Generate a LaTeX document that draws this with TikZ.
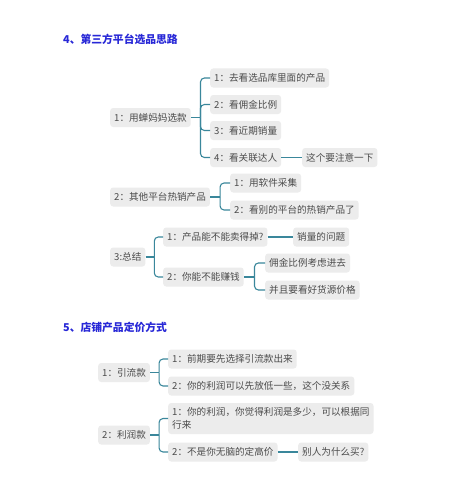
\documentclass[tikz,border=0pt]{standalone}
\usepackage{fontspec}
\setmainfont{Noto Sans CJK SC}
\usetikzlibrary{calc}
\definecolor{boxgray}{RGB}{236,236,236}
\definecolor{txtgray}{RGB}{75,75,75}
\definecolor{conncol}{RGB}{58,135,155}
\definecolor{titleblue}{RGB}{40,40,215}
\tikzset{
  mbox/.style={fill=boxgray, rounded corners=3pt, inner xsep=4pt, inner ysep=0pt,
    minimum height=19pt, text=txtgray, font=\fontsize{9.6}{12}\selectfont, anchor=west},
  mtitle/.style={text=titleblue, font=\fontsize{10.8}{13}\selectfont\bfseries, anchor=west, inner sep=0pt},
  conn/.style={draw=conncol, line width=1.1pt},
  brk/.style={conn, rounded corners=4pt}
}
\newcommand{\mybrk}[2]{% parent, child
  \draw[brk] (#1m) |- (#2.west);}
\begin{document}
\begin{tikzpicture}[x=1pt,y=-1pt]
\fill[white] (0,0) rectangle (454,487);
\useasboundingbox (0,0) rectangle (454,487);

\node[mtitle] (t1) at (63,39) {4、第三方平台选品思路};

\node[mbox] (a) at (110,117.5) {1：用蝉妈妈选款};
\node[mbox] (a1) at (210,78) {1：去看选品库里面的产品};
\node[mbox] (a2) at (210,104.5) {2：看佣金比例};
\node[mbox] (a3) at (210,130.5) {3：看近期销量};
\node[mbox] (a4) at (210,157.5) {4：看关联达人};
\node[mbox] (a4x) at (302,157.5) {这个要注意一下};

\node[mbox] (b) at (110,197) {2：其他平台热销产品};
\node[mbox] (b1) at (230,183) {1：用软件采集};
\node[mbox] (b2) at (230,210) {2：看别的平台的热销产品了};

\node[mbox] (c) at (110,257) {3:总结};
\node[mbox] (c1) at (163,237) {1：产品能不能卖得掉?};
\node[mbox] (c1x) at (293,237) {销量的问题};
\node[mbox] (c2) at (163,277) {2：你能不能赚钱};
\node[mbox] (c21) at (265,263) {佣金比例考虑进去};
\node[mbox] (c22) at (265,290) {并且要看好货源价格};

\node[mtitle] (t2) at (63,327.5) {5、店铺产品定价方式};

\node[mbox] (d) at (98,372.5) {1：引流款};
\node[mbox] (d1) at (168,359) {1：前期要先选择引流款出来};
\node[mbox] (d2) at (168,386) {2：你的利润可以先放低一些，这个没关系};

\node[mbox] (e) at (98,435) {2：利润款};
\node[mbox, minimum height=31pt, align=left, font=\fontsize{9.6}{12.5}\selectfont] (e1) at (168,418.5) {1：你的利润，你觉得利润是多少，可以根据同\\行来};
\node[mbox] (e2) at (168,452) {2：不是你无脑的定高价};
\node[mbox] (e2x) at (298,452) {别人为什么买?};

% stubs
\coordinate (am) at ($(a.east)!0.5!(a1.west |- a.east)$);
\coordinate (bm) at ($(b.east)!0.5!(b1.west |- b.east)$);
\coordinate (cm) at ($(c.east)!0.5!(c1.west |- c.east)$);
\coordinate (c2m) at ($(c2.east)!0.5!(c21.west |- c2.east)$);
\coordinate (dm) at ($(d.east)!0.5!(d1.west |- d.east)$);
\coordinate (em) at ($(e.east)!0.5!(e1.west |- e.east)$);

\draw[conn] (a.east) -- (am);
\mybrk{a}{a1}\mybrk{a}{a2}\mybrk{a}{a3}\mybrk{a}{a4}
\draw[conn] (a4.east) -- (a4x.west);

\draw[conn] (b.east) -- (bm);
\mybrk{b}{b1}\mybrk{b}{b2}

\draw[conn] (c.east) -- (cm);
\mybrk{c}{c1}\mybrk{c}{c2}
\draw[conn] (c1.east) -- (c1x.west);
\draw[conn] (c2.east) -- (c2m);
\mybrk{c2}{c21}\mybrk{c2}{c22}

\draw[conn] (d.east) -- (dm);
\mybrk{d}{d1}\mybrk{d}{d2}

\draw[conn] (e.east) -- (em);
\mybrk{e}{e1}\mybrk{e}{e2}
\draw[conn] (e2.east) -- (e2x.west);
\end{tikzpicture}
\end{document}
